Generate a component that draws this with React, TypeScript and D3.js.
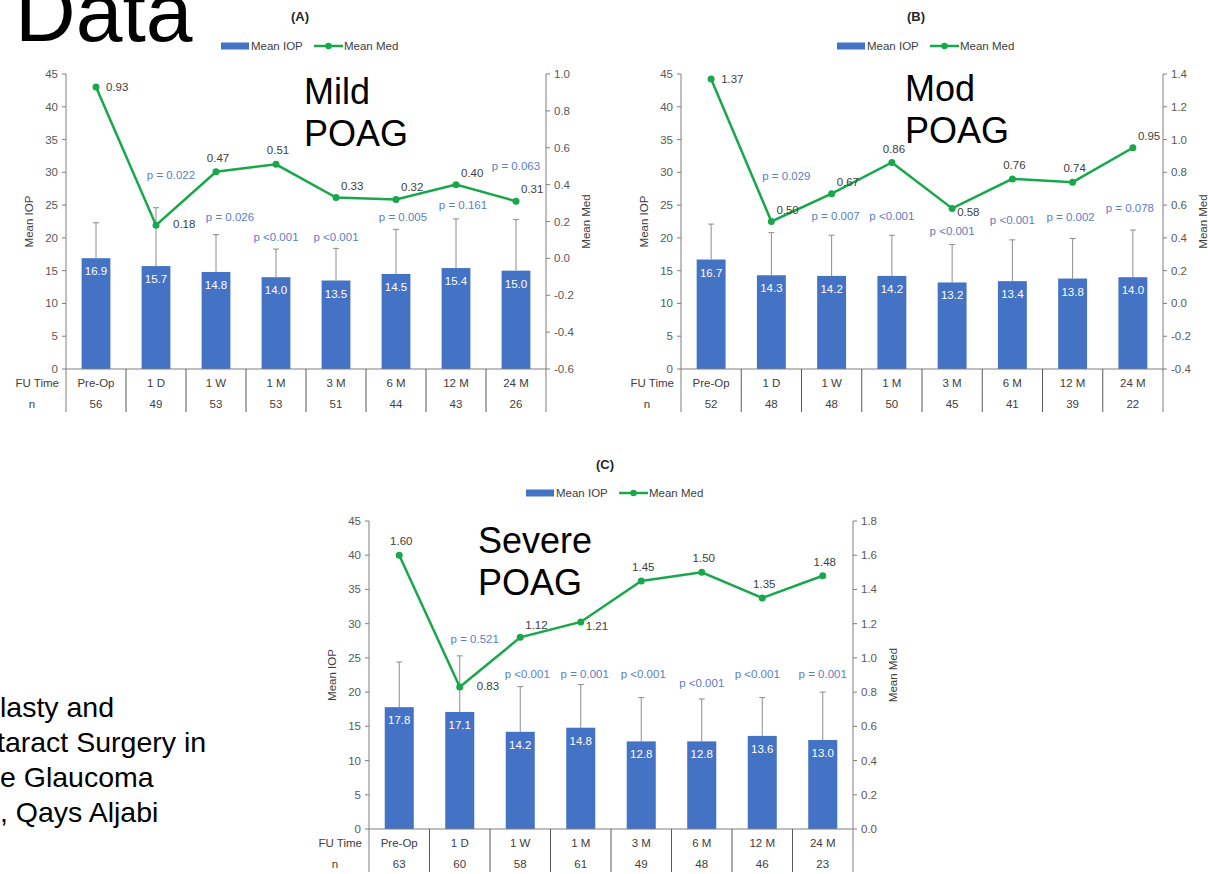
import * as d3 from "d3";

const FONT = "'Liberation Sans', Arial, sans-serif";
const BAR = "#4472C4";
const GREEN = "#18A84B";
const PBLUE = "#5B7EC2";
const TXT = "#404040";
const AXIS = "#7F7F7F";
const FS = 11.5;

const fuTimes = ["Pre-Op", "1 D", "1 W", "1 M", "3 M", "6 M", "12 M", "24 M"];
const iopTicks = [0, 5, 10, 15, 20, 25, 30, 35, 40, 45];

// (A) mild
const mildIop = [16.9, 15.7, 14.8, 14.0, 13.5, 14.5, 15.4, 15.0];
const mildUpper = [22.3, 24.6, 20.5, 18.3, 18.4, 21.3, 22.9, 22.8];
const mildMed = [0.93, 0.18, 0.47, 0.51, 0.33, 0.32, 0.4, 0.31];
const mildN = [56, 49, 53, 53, 51, 44, 43, 26];
const mildP = ["", "p = 0.022", "p = 0.026", "p <0.001", "p <0.001", "p = 0.005", "p = 0.161", "p = 0.063"];
const mildPLevel = [0, 29.6, 23.2, 20.1, 20.1, 23.2, 25.0, 30.9];
const mildMedTicks = [-0.6, -0.4, -0.2, 0, 0.2, 0.4, 0.6, 0.8, 1.0];

// (B) moderate
const modIop = [16.7, 14.3, 14.2, 14.2, 13.2, 13.4, 13.8, 14.0];
const modUpper = [22.1, 20.8, 20.4, 20.4, 19.0, 19.7, 19.9, 21.2];
const modMed = [1.37, 0.5, 0.67, 0.86, 0.58, 0.76, 0.74, 0.95];
const modN = [52, 48, 48, 50, 45, 41, 39, 22];
const modP = ["", "p = 0.029", "p = 0.007", "p <0.001", "p <0.001", "p <0.001", "p = 0.002", "p = 0.078"];
const modPLevel = [0, 29.4, 23.4, 23.4, 21.0, 22.7, 23.2, 24.6];
const modMedTicks = [-0.4, -0.2, 0, 0.2, 0.4, 0.6, 0.8, 1.0, 1.2, 1.4];

// (C) severe
const sevIop = [17.8, 17.1, 14.2, 14.8, 12.8, 12.8, 13.6, 13.0];
const sevUpper = [24.4, 25.3, 20.8, 21.1, 19.2, 19.0, 19.2, 20.0];
const sevMed = [1.6, 0.83, 1.12, 1.21, 1.45, 1.5, 1.35, 1.48];
const sevN = [63, 60, 58, 61, 49, 48, 46, 23];
const sevP = ["", "p = 0.521", "p <0.001", "p = 0.001", "p <0.001", "p <0.001", "p <0.001", "p = 0.001"];
const sevPLevel = [0, 27.8, 22.7, 22.7, 22.7, 21.3, 22.7, 22.7];
const sevMedTicks = [0, 0.2, 0.4, 0.6, 0.8, 1.0, 1.2, 1.4, 1.6, 1.8];

const slideLines = ["lasty and", "taract Surgery in", "e Glaucoma", ", Qays Aljabi"];

// label placement (layout only)
const LABEL_OFF: Record<string, { dx: number; dy: number; anchor: string }> = {
  r: { dx: 10, dy: 4, anchor: "start" },
  rf: { dx: 17, dy: 3, anchor: "start" },
  a: { dx: 2, dy: -10, anchor: "middle" },
  ar: { dx: 5, dy: -8, anchor: "start" },
  rb: { dx: 5, dy: 8, anchor: "start" },
};

const panels = [
  {
    title: "(A)", name: ["Mild", "POAG"], iop: mildIop, upper: mildUpper, med: mildMed, n: mildN,
    p: mildP, pLevel: mildPLevel, medTicks: mildMedTicks,
    pDx: [0, 15, 14, 0, 0, 7, 7, 0],
    labelPos: ["r", "rf", "a", "a", "ar", "ar", "ar", "ar"],
    x0: 66, x1: 546, yTop: 74, yBot: 369, titleY: 21, legendY: 46, nameX: 304, nameY: 104,
  },
  {
    title: "(B)", name: ["Mod", "POAG"], iop: modIop, upper: modUpper, med: modMed, n: modN,
    p: modP, pLevel: modPLevel, medTicks: modMedTicks,
    pDx: [0, 15, 4, 0, 0, 0, -2, -3],
    labelPos: ["r", "ar", "ar", "a", "rb", "a", "a", "ar"],
    x0: 681, x1: 1163, yTop: 74, yBot: 369, titleY: 21, legendY: 46, nameX: 905, nameY: 101,
  },
  {
    title: "(C)", name: ["Severe", "POAG"], iop: sevIop, upper: sevUpper, med: sevMed, n: sevN,
    p: sevP, pLevel: sevPLevel, medTicks: sevMedTicks,
    pDx: [0, 15, 7, 4, 2, 0, -5, 0],
    labelPos: ["a", "rf", "ar", "rb", "a", "a", "a", "a"],
    x0: 369, x1: 853, yTop: 521, yBot: 829, titleY: 469, legendY: 493, nameX: 478, nameY: 553,
  },
];

function Panel({ cfg }: { cfg: any }) {
  const { x0, x1, yTop, yBot } = cfg;
  const x = d3.scaleBand<string>().domain(fuTimes).range([x0, x1]).paddingInner(0.52).paddingOuter(0.26);
  const step = x.step();
  const cx = (i: number) => (x(fuTimes[i]) as number) + x.bandwidth() / 2;
  const yL = d3.scaleLinear().domain([0, 45]).range([yBot, yTop]);
  const medExt = d3.extent(cfg.medTicks as number[]) as [number, number];
  const yR = d3.scaleLinear().domain(medExt).range([yBot, yTop]);
  const line = d3.line<number>().x((_, i) => cx(i)).y((d) => yR(d));
  const tableBot = yBot + 43;
  const mid = (x0 + x1) / 2 + 4;
  const lw = 178;
  const lx = mid - lw / 2;

  return (
    <g fontFamily={FONT}>
      {/* title + legend */}
      <text x={(x0 + x1) / 2 - 6} y={cfg.titleY} textAnchor="middle" fontSize={13} fontWeight="bold" fill="#262626">
        {cfg.title}
      </text>
      <rect x={lx} y={cfg.legendY - 3.5} width={28} height={7} fill={BAR} />
      <text x={lx + 30} y={cfg.legendY + 4} fontSize={FS} fill={TXT}>Mean IOP</text>
      <line x1={lx + 93} x2={lx + 122} y1={cfg.legendY} y2={cfg.legendY} stroke={GREEN} strokeWidth={2.5} />
      <circle cx={lx + 107.5} cy={cfg.legendY} r={3.2} fill={GREEN} />
      <text x={lx + 123} y={cfg.legendY + 4} fontSize={FS} fill={TXT}>Mean Med</text>

      {/* left axis */}
      <line x1={x0} x2={x0} y1={yTop} y2={tableBot} stroke={AXIS} />
      {iopTicks.map((t) => (
        <g key={"l" + t}>
          <line x1={x0 - 4} x2={x0} y1={yL(t)} y2={yL(t)} stroke={AXIS} />
          <text x={x0 - 8} y={yL(t) + 4} textAnchor="end" fontSize={FS} fill="#595959">{t}</text>
        </g>
      ))}
      <text transform={`translate(${x0 - 33},${(yTop + yBot) / 2}) rotate(-90)`} textAnchor="middle" fontSize={FS} fill={TXT}>
        Mean IOP
      </text>

      {/* right axis */}
      <line x1={x1} x2={x1} y1={yTop} y2={tableBot} stroke={AXIS} />
      {(cfg.medTicks as number[]).map((t) => (
        <g key={"r" + t}>
          <line x1={x1} x2={x1 + 4} y1={yR(t)} y2={yR(t)} stroke={AXIS} />
          <text x={x1 + 8} y={yR(t) + 4} fontSize={FS} fill="#595959">{t.toFixed(1)}</text>
        </g>
      ))}
      <text transform={`translate(${x1 + 44},${(yTop + yBot) / 2}) rotate(-90)`} textAnchor="middle" fontSize={FS} fill={TXT}>
        Mean Med
      </text>

      {/* bars + error bars */}
      {(cfg.iop as number[]).map((v, i) => (
        <g key={"b" + i}>
          <line x1={cx(i)} x2={cx(i)} y1={yL(v)} y2={yL(cfg.upper[i])} stroke="#8C8C8C" />
          <line x1={cx(i) - 3} x2={cx(i) + 3} y1={yL(cfg.upper[i])} y2={yL(cfg.upper[i])} stroke="#8C8C8C" />
          <rect x={x(fuTimes[i])} y={yL(v)} width={x.bandwidth()} height={yL(0) - yL(v)} fill={BAR} />
          <text x={cx(i)} y={yL(v) + 17} textAnchor="middle" fontSize={FS} fill="#fff">{v.toFixed(1)}</text>
        </g>
      ))}
      <line x1={x0} x2={x1} y1={yBot} y2={yBot} stroke={AXIS} />

      {/* data table */}
      {fuTimes.map((f, i) => (
        <g key={"t" + i}>
          {i > 0 && <line x1={x0 + i * step} x2={x0 + i * step} y1={yBot} y2={tableBot} stroke="#595959" />}
          <text x={cx(i)} y={yBot + 18} textAnchor="middle" fontSize={FS} fill={TXT}>{f}</text>
          <text x={cx(i)} y={yBot + 39} textAnchor="middle" fontSize={FS} fill={TXT}>{cfg.n[i]}</text>
        </g>
      ))}
      <text x={x0 - 7} y={yBot + 18} textAnchor="end" fontSize={FS} fill={TXT}>FU Time</text>
      <text x={x0 - 34} y={yBot + 39} textAnchor="middle" fontSize={FS} fill={TXT}>n</text>

      {/* p-values */}
      {(cfg.p as string[]).map((p, i) =>
        p ? (
          <text key={"p" + i} x={cx(i) + cfg.pDx[i]} y={yL(cfg.pLevel[i]) + 4} textAnchor="middle" fontSize={FS} fill={PBLUE}>
            {p}
          </text>
        ) : null
      )}

      {/* med line */}
      <path d={line(cfg.med) || ""} fill="none" stroke={GREEN} strokeWidth={2.5} />
      {(cfg.med as number[]).map((v, i) => {
        const o = LABEL_OFF[cfg.labelPos[i]];
        return (
          <g key={"m" + i}>
            <circle cx={cx(i)} cy={yR(v)} r={3.5} fill={GREEN} />
            <text x={cx(i) + o.dx} y={yR(v) + o.dy} textAnchor={o.anchor} fontSize={FS} fill={TXT}>
              {v.toFixed(2)}
            </text>
          </g>
        );
      })}

      {/* group name */}
      <text x={cfg.nameX} y={cfg.nameY} fontSize={36} fill="#000">{cfg.name[0]}</text>
      <text x={cfg.nameX} y={cfg.nameY + 42} fontSize={36} fill="#000">{cfg.name[1]}</text>
    </g>
  );
}

export default function App() {
  return (
    <svg
      width={1208}
      height={874}
      style={{ position: "absolute", left: 0, top: 0, background: "#fff" }}
    >
      <rect width={1208} height={874} fill="#fff" />
      <text x={15} y={41} fontFamily={FONT} fontSize={84} fill="#000">Data</text>
      {slideLines.map((s, i) => (
        <text key={s} x={i === 1 ? -3 : 0} y={717 + i * 35} fontFamily={FONT} fontSize={28.5} fill="#000">
          {s}
        </text>
      ))}
      {panels.map((p) => (
        <Panel key={p.title} cfg={p} />
      ))}
    </svg>
  );
}
